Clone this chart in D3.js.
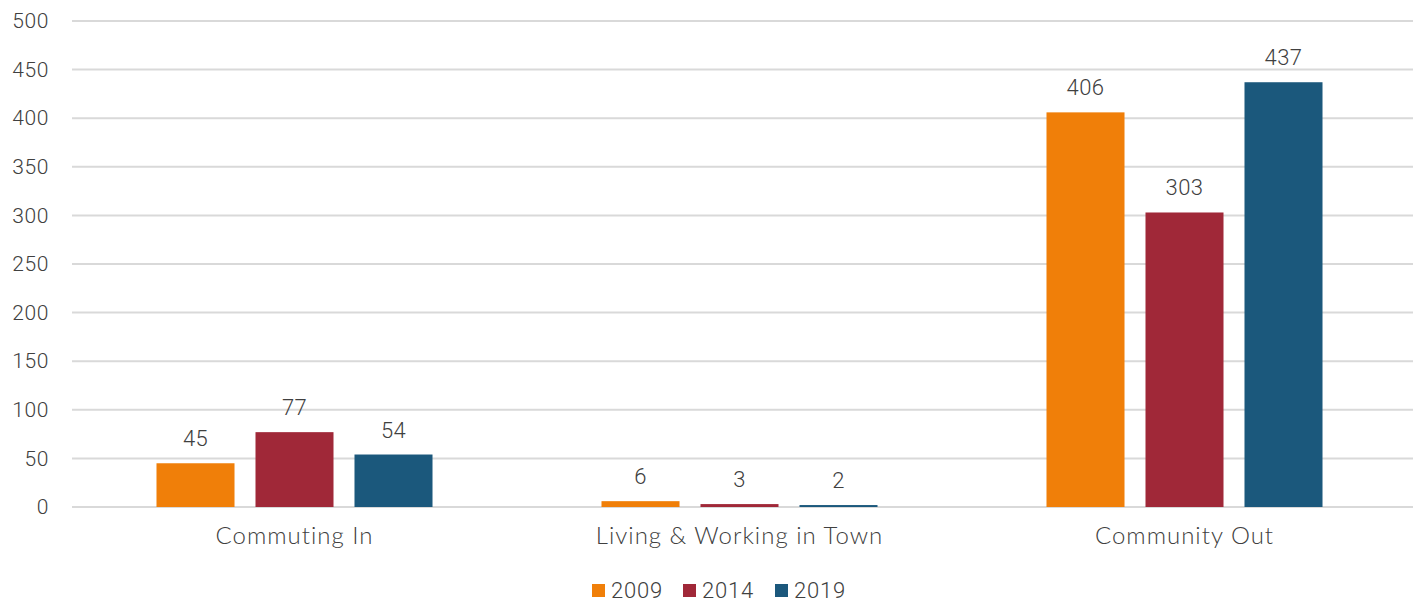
<!DOCTYPE html>
<html><head><meta charset="utf-8">
<script src="https://cdn.jsdelivr.net/npm/d3@7"></script>
<style>body{margin:0;background:#fff}svg{display:block}</style>
</head><body><svg id="c" width="1413" height="603"></svg>
<script>
const categories = ["Commuting In", "Living & Working in Town", "Community Out"];
const seriesNames = ["2009", "2014", "2019"];
const values2009 = [45, 6, 406];
const values2014 = [77, 3, 303];
const values2019 = [54, 2, 437];
const yTicks = [0, 50, 100, 150, 200, 250, 300, 350, 400, 450, 500];
const colors = ["#F07F09", "#A02838", "#1B587C"];

(function(){
const seriesValues = [values2009, values2014, values2019];
const svg = d3.select("#c");
const mLeft = 72, mRight = 1407, gridRight = 1413, mTop = 21, mBottom = 507;
const font = "'Lato','Open Sans',sans-serif";
const numFont = "Roboto, sans-serif";
const textColor = "#404040";

const y = d3.scaleLinear().domain([0, 500]).range([mBottom, mTop]);
const x0 = d3.scaleBand().domain(categories).range([mLeft, mRight]).paddingInner(0).paddingOuter(0);
const x1 = d3.scaleBand().domain(seriesNames).range([0, x0.bandwidth()]).paddingInner(0.212).paddingOuter(0.8535);

svg.append("g").selectAll("line").data(yTicks).join("line")
  .attr("x1", mLeft).attr("x2", gridRight)
  .attr("y1", d => y(d)).attr("y2", d => y(d))
  .attr("stroke", "#d9d9d9").attr("stroke-width", 2);

const yAxis = d3.axisLeft(y).tickValues(yTicks).tickSize(0).tickPadding(23);
const gy = svg.append("g").attr("transform", `translate(${mLeft},0)`).call(yAxis);
gy.select(".domain").remove();
gy.selectAll("text").attr("font-family", numFont).attr("font-weight", 300).attr("font-size", 21)
  .attr("letter-spacing", 0.6).attr("fill", textColor);

const groups = svg.append("g").selectAll("g").data(categories).join("g")
  .attr("transform", d => `translate(${x0(d)},0)`);
groups.each(function(cat, ci) {
  const g = d3.select(this);
  seriesNames.forEach((s, si) => {
    const v = seriesValues[si][ci];
    g.append("rect")
      .attr("x", x1(s)).attr("width", x1.bandwidth())
      .attr("y", y(v)).attr("height", y(0) - y(v))
      .attr("fill", colors[si]);
    g.append("text")
      .attr("x", x1(s) + x1.bandwidth() / 2)
      .attr("y", y(v) - 17)
      .attr("text-anchor", "middle")
      .attr("font-family", numFont).attr("font-weight", 300).attr("font-size", 22)
      .attr("letter-spacing", 0.4)
      .attr("fill", textColor).text(v);
  });
});

const xAxis = d3.axisBottom(x0).tickSize(0).tickPadding(20);
const gx = svg.append("g").attr("transform", `translate(0,${mBottom})`).call(xAxis);
gx.select(".domain").remove();
gx.selectAll("text").attr("font-family", font).attr("font-weight", 300).attr("font-size", 24)
  .attr("letter-spacing", 1.0).attr("fill", textColor);

const legendX = [592, 683, 775];
const lg = svg.append("g").selectAll("g").data(seriesNames).join("g")
  .attr("transform", (d, i) => `translate(${legendX[i]},584)`);
lg.append("rect").attr("width", 13).attr("height", 13).attr("fill", (d, i) => colors[i]);
lg.append("text").attr("x", 19).attr("y", 13.5)
  .attr("font-family", numFont).attr("font-weight", 300).attr("font-size", 22)
  .attr("letter-spacing", 0.8)
  .attr("fill", textColor).text(d => d);
})();
</script></body></html>
